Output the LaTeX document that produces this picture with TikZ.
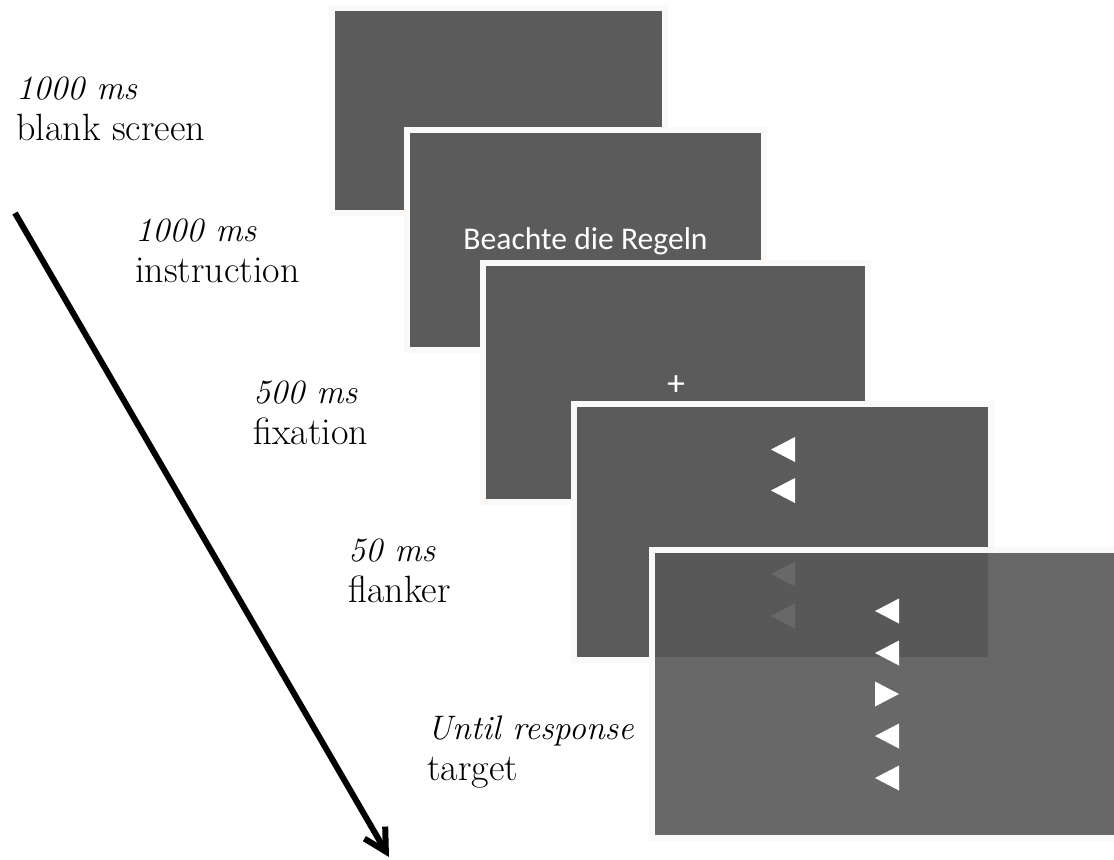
\documentclass[tikz,border=0pt]{standalone}
\usepackage{fontspec}
\newfontfamily\calibri{Carlito}
\usetikzlibrary{arrows.meta}
\definecolor{scrgray}{RGB}{91,91,91}
\definecolor{scrdim}{RGB}{88,88,88}
\definecolor{scredge}{RGB}{250,249,247}
\newcommand{\dur}[1]{{\fontsize{17}{20.5}\selectfont\itshape #1}}
\tikzstyle{screen} = [rectangle, draw=scredge, line width=3pt, fill=scrgray, inner sep=0pt]
\tikzstyle{timing} = [anchor=base west, align=left, inner sep=0pt, font=\fontsize{19}{20.5}\selectfont]
\tikzstyle{screentext} = [text=white, inner sep=0pt, font=\calibri\fontsize{15.8}{18}\selectfont]
\tikzstyle{timearrow} = [line width=3pt, -{Straight Barb[length=11pt,width=12pt]}]

\begin{document}
\begin{tikzpicture}[x=0.5pt, y=-0.5pt]
\useasboundingbox (0,0) rectangle (1114,859);

% screens, back to front
\node[screen, minimum width=166.5pt, minimum height=102.5pt] (blank) at (498.5,110.5) {};

\node[screen, minimum width=178.5pt, minimum height=110pt] (instr) at (585.5,240) {};
\node[screentext] (rules) at (585.5,241) {Beachte die Regeln};

\node[screen, minimum width=192.5pt, minimum height=119.5pt] (fix) at (675.5,382.5) {};
\node[screentext, font=\calibri\fontsize{18}{20}\selectfont] (cross) at (676,386) {+};

\node[screen, minimum width=208.5pt, minimum height=128pt] (flank) at (782.5,532) {};
\foreach \ty in {449.5,490.5,574,616}
  \fill[white] (795,\ty-12.5) -- (795,\ty+12.5) -- (771,\ty) -- cycle;

\node[screen, fill=scrdim, fill opacity=0.9, minimum width=235pt, minimum height=144pt] (target) at (887,694) {};
\foreach \ty in {611,653,736,778}
  \fill[white] (899,\ty-12.5) -- (899,\ty+12.5) -- (875,\ty) -- cycle;
\fill[white] (875,681.5) -- (875,706.5) -- (899,694) -- cycle;

% timing labels (anchored at the baseline of the second line)
\node[timing] (tblank) at (16,140) {\dur{1000 ms}\\blank screen};
\node[timing] (tinstr) at (135,282) {\dur{1000 ms}\\instruction};
\node[timing] (tfix) at (253,444) {\dur{500 ms}\\fixation};
\node[timing] (tflank) at (348,602) {\dur{50 ms}\\flanker};
\node[timing] (ttarget) at (427,780) {\dur{Until response}\\target};

% time axis
\coordinate (tstart) at (15,213);
\coordinate (tend) at (389,857);
\draw[timearrow] (tstart) -- (tend);

\end{tikzpicture}
\end{document}
